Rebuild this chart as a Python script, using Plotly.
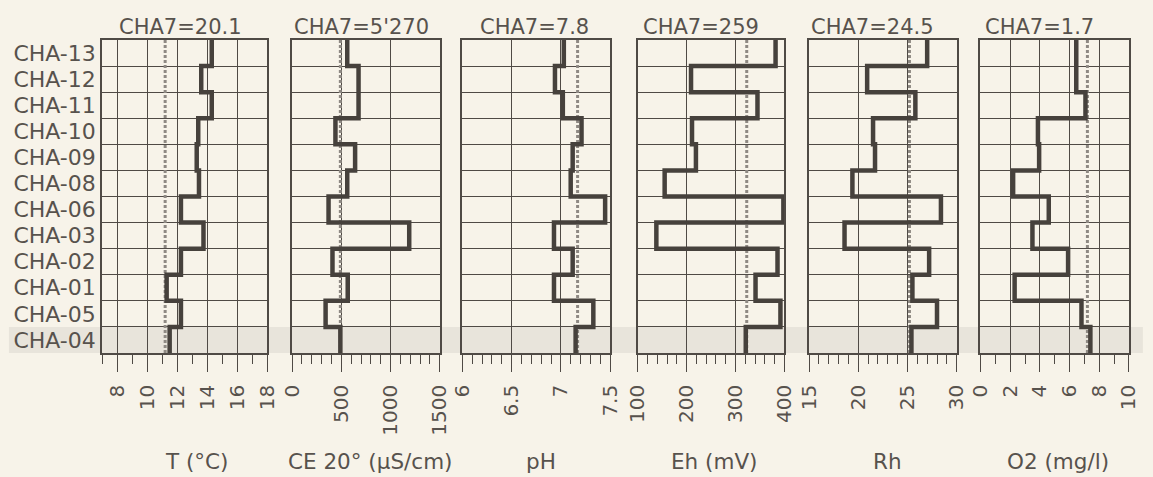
import plotly.graph_objects as go

# ---------------- data ----------------
wells = ["CHA-04", "CHA-05", "CHA-01", "CHA-02", "CHA-03", "CHA-06",
         "CHA-08", "CHA-09", "CHA-10", "CHA-11", "CHA-12", "CHA-13"]  # bottom -> top

temp = [11.5, 12.25, 11.3, 12.25, 13.75, 12.25, 13.45, 13.3, 13.4, 14.3, 13.6, 14.3]
ce = [490, 340, 565, 410, 1190, 370, 560, 640, 440, 675, 675, 560]
ph = [7.15, 7.33, 6.93, 7.12, 6.93, 7.45, 7.10, 7.12, 7.21, 7.02, 6.94, 7.03]
eh = [321, 392, 341, 386, 138, 398, 155, 219, 211, 345, 209, 382]
rh = [25.4, 28.0, 25.5, 27.2, 18.6, 28.4, 19.4, 21.7, 21.5, 25.8, 20.9, 27.0]
o2 = [7.4, 6.8, 2.3, 5.9, 3.5, 4.6, 2.2, 3.95, 3.87, 7.07, 6.45, 6.45]

series = [temp, ce, ph, eh, rh, o2]
ref_values = [11.2, 490, 7.17, 323, 25.2, 7.2]
panel_titles = ["CHA7=20.1", "CHA7=5'270", "CHA7=7.8", "CHA7=259", "CHA7=24.5", "CHA7=1.7"]
axis_titles = ["T (°C)", "CE 20° (µS/cm)", "pH", "Eh (mV)", "Rh", "O2 (mg/l)"]
x_ranges = [[7, 18], [0, 1500], [6, 7.5], [100, 400], [15, 30], [0, 10]]
major_dtick = [2, 500, 0.5, 100, 5, 2]
minor_dtick = [1, 100, 0.1, 20, 1, 1]

# ---------------- layout constants ----------------
W, H = 1153, 477
ML, MR, MT, MB = 102, 14, 40, 124
PW = W - ML - MR
panel_px = [(102, 269), (294, 443), (466, 615), (643, 791), (816, 965), (989, 1139)]
title_offsets = [15, 0, 16, 3, 0, 3]
axis_title_offsets = [12, 4, 5, 3, 5, 3]

FONT = "DejaVu Sans"
TXT = "#57524d"
LINE = "#4f4a45"
STEP = "#46413c"
BG = "#f7f3e9"

def px2paper(p):
    return (p - ML) / PW

fig = go.Figure()
n = len(wells)

for k, vals in enumerate(series):
    xs, ys = [], []
    for i, v in enumerate(vals):
        xs += [v, v]
        ys += [i - 0.5, i + 0.5]
    suffix = "" if k == 0 else str(k + 1)
    # reference dashed line
    fig.add_trace(go.Scatter(
        x=[ref_values[k], ref_values[k]], y=[-0.5, n - 0.5], mode="lines",
        line=dict(color="#8e8983", width=3, dash="3px,2px"),
        xaxis="x" + suffix, yaxis="y" + suffix, showlegend=False, hoverinfo="skip"))
    fig.add_trace(go.Scatter(
        x=xs, y=ys, mode="lines", line=dict(color=STEP, width=4.5),
        xaxis="x" + suffix, yaxis="y" + suffix, showlegend=False))

layout = dict(
    width=W, height=H, autosize=False,
    margin=dict(l=ML, r=MR, t=MT, b=MB, pad=0),
    paper_bgcolor=BG, plot_bgcolor="rgba(0,0,0,0)",
    font=dict(family=FONT, color=TXT, size=20),
    showlegend=False,
)

for k in range(6):
    suffix = "" if k == 0 else str(k + 1)
    x0, x1 = panel_px[k]
    layout["xaxis" + suffix] = dict(
        domain=[px2paper(x0), px2paper(x1)],
        anchor="y" + suffix,
        range=x_ranges[k], tick0=0, dtick=major_dtick[k],
        showgrid=True, gridcolor=LINE, gridwidth=1.4,
        showline=True, linecolor=LINE, linewidth=1.6, mirror=True,
        ticks="outside", ticklen=17, tickwidth=1.4, tickcolor=LINE,
        tickangle=-90, tickfont=dict(family=FONT, size=20, color=TXT),
        ticklabelstandoff=5,
        minor=dict(dtick=minor_dtick[k], tick0=0, ticks="outside", ticklen=9,
                   tickwidth=1.2, tickcolor=LINE, showgrid=False),
        zeroline=False, fixedrange=True,
    )
    layout["yaxis" + suffix] = dict(
        domain=[0, 1], anchor="x" + suffix,
        range=[-0.5, n - 0.5],
        tickmode="array", tickvals=list(range(n)), ticktext=wells,
        showticklabels=(k == 0), ticks="",
        tickfont=dict(family=FONT, size=22, color=TXT),
        showgrid=False,
        minor=dict(tickvals=[i + 0.5 for i in range(n - 1)], showgrid=True,
                   gridcolor=LINE, gridwidth=1.4, ticks=""),
        showline=True, linecolor=LINE, linewidth=1.6, mirror=True,
        zeroline=False, fixedrange=True,
    )

fig.update_layout(**layout)

# highlighted reference row band (CHA-04), across the full width
fig.add_shape(type="rect", xref="paper", yref="paper",
              x0=px2paper(8), x1=px2paper(W), y0=0, y1=1 / n,
              fillcolor="rgba(175,170,165,0.20)", line=dict(width=0), layer="below")

for k in range(6):
    x0, x1 = panel_px[k]
    fig.add_annotation(text=panel_titles[k], xref="paper", yref="paper",
                       x=px2paper(x0), xanchor="left", xshift=title_offsets[k],
                       y=1, yanchor="middle", yshift=13, showarrow=False,
                       font=dict(family=FONT, size=21, color=TXT))
    fig.add_annotation(text=axis_titles[k], xref="paper", yref="paper",
                       x=px2paper((x0 + x1) / 2), xanchor="center",
                       xshift=axis_title_offsets[k],
                       y=0, yanchor="middle", yshift=-108, showarrow=False,
                       font=dict(family=FONT, size=21.5, color=TXT))

fig.write_html("out.html")
